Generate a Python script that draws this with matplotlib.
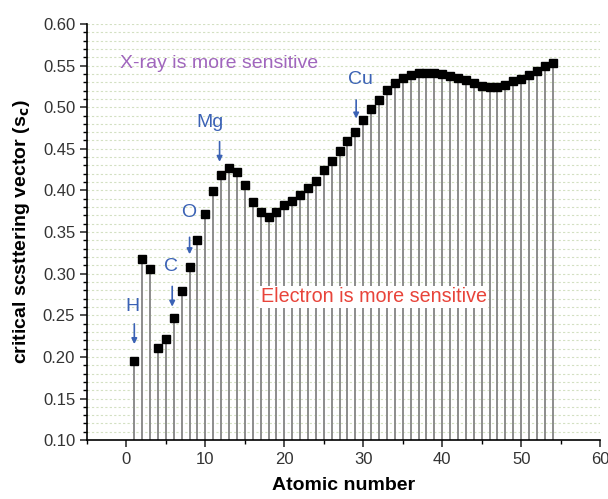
import matplotlib.pyplot as plt
from matplotlib.ticker import MultipleLocator

plt.rcParams['font.family'] = ['Liberation Sans', 'DejaVu Sans']

# Atomic number vs critical scattering vector
atomic_number = list(range(1, 55))
sc = [0.195, 0.318, 0.306, 0.211, 0.222, 0.247, 0.279, 0.308, 0.340, 0.372,
      0.399, 0.418, 0.427, 0.422, 0.407, 0.386, 0.374, 0.368, 0.374, 0.382,
      0.387, 0.395, 0.403, 0.411, 0.424, 0.435, 0.447, 0.459, 0.470, 0.485,
      0.498, 0.509, 0.521, 0.529, 0.535, 0.539, 0.541, 0.541, 0.541, 0.540,
      0.537, 0.535, 0.533, 0.529, 0.526, 0.524, 0.524, 0.527, 0.531, 0.534,
      0.539, 0.544, 0.549, 0.553]

# element labels: (name, text x, text y, arrow x, arrow top, arrow tip)
labels = [('H', 0.8, 0.260, 1.0, 0.243, 0.212),
          ('C', 5.6, 0.308, 5.8, 0.288, 0.257),
          ('O', 7.9, 0.374, 8.0, 0.347, 0.320),
          ('Mg', 10.6, 0.481, 11.8, 0.462, 0.431),
          ('Cu', 29.6, 0.533, 29.1, 0.512, 0.483)]

fig = plt.figure(figsize=(6.08, 4.99), dpi=100)
ax = fig.add_axes([0.143, 0.118, 0.844, 0.834])

ax.vlines(atomic_number, 0.10, sc, color='#8c8c8c', lw=1.4, zorder=2)
ax.plot(atomic_number, sc, 's', color='black', ms=6, zorder=3)

blue = '#3b62b5'
for name, tx, ty, axx, a0, a1 in labels:
    ax.text(tx, ty, name, color=blue, fontsize=14, ha='center', va='center')
    ax.annotate('', xy=(axx, a1), xytext=(axx, a0),
                arrowprops=dict(arrowstyle='-|>', color=blue, lw=1.2,
                                mutation_scale=8))

ax.text(-0.8, 0.553, 'X-ray is more sensitive', color='#a066bd', fontsize=14,
        va='center', ha='left')
ax.text(17.0, 0.272, 'Electron is more sensitive', color='#e8443a', fontsize=14.2,
        va='center', ha='left', zorder=4,
        bbox=dict(facecolor='white', edgecolor='none', pad=1))

ax.set_xlim(-5, 60)
ax.set_ylim(0.10, 0.60)
ax.xaxis.set_major_locator(MultipleLocator(10))
ax.xaxis.set_minor_locator(MultipleLocator(5))
ax.yaxis.set_major_locator(MultipleLocator(0.05))
ax.yaxis.set_minor_locator(MultipleLocator(0.01))
ax.yaxis.set_major_formatter(plt.FormatStrFormatter('%.2f'))
ax.tick_params(which='major', direction='out', length=5, width=1.2, labelsize=12,
               colors='#333333')
ax.tick_params(which='minor', direction='out', length=3, width=1)

ax.grid(True, axis='y', which='both', color='#d3e0c2', ls=(0, (2, 2)), lw=0.8)
ax.set_axisbelow(True)
for s in ['top', 'right']:
    ax.spines[s].set_visible(False)
for s in ['left', 'bottom']:
    ax.spines[s].set_linewidth(1.2)

ax.set_xlabel('Atomic number', fontsize=14, fontweight='bold', labelpad=7)
ax.set_ylabel(r'critical scsttering vector (s$_\mathbf{c}$)', fontsize=14,
              fontweight='bold', labelpad=8)

plt.savefig('out.png', dpi=100)
plt.close()
